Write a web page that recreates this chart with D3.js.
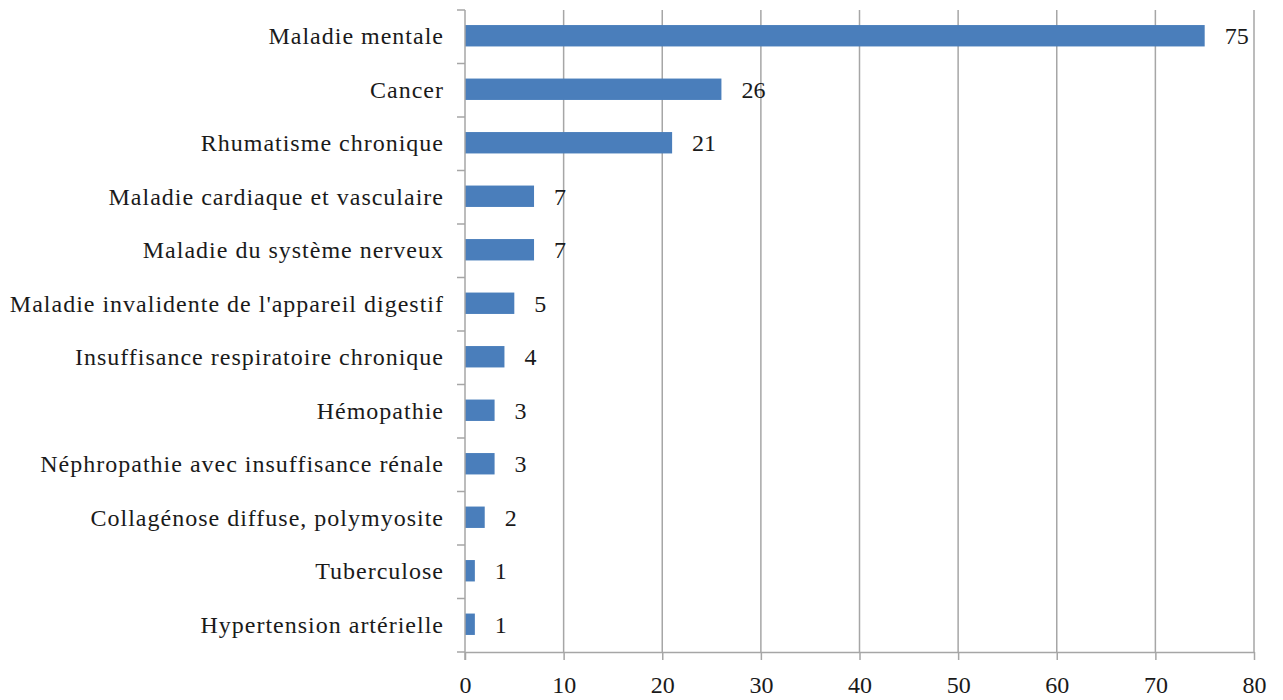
<!DOCTYPE html>
<html><head><meta charset="utf-8">
<script src="https://cdnjs.cloudflare.com/ajax/libs/d3/7.8.5/d3.min.js"></script>
<style>body{margin:0;background:#fff}svg{display:block}text{font-family:"Liberation Serif","Times New Roman",serif}</style>
</head><body>
<svg id="c" width="1283" height="700"></svg>
<script>
const categories = ["Maladie mentale","Cancer","Rhumatisme chronique","Maladie cardiaque et vasculaire","Maladie du système nerveux","Maladie invalidente de l'appareil digestif","Insuffisance respiratoire chronique","Hémopathie","Néphropathie avec insuffisance rénale","Collagénose diffuse, polymyosite","Tuberculose","Hypertension artérielle"];
const values = [75,26,21,7,7,5,4,3,3,2,1,1];
const xTicks = [0,10,20,30,40,50,60,70,80];

(function(){
const svg = d3.select("#c");
const mL = 465, mR = 1254, mT = 10, mB = 652;
const x = d3.scaleLinear().domain([0,80]).range([mL,mR]);
const y = d3.scaleBand().domain(categories).range([mT,mB]).paddingInner(0.6).paddingOuter(0.3);
const font = "Liberation Serif, Times New Roman, serif";
const grid = "#a6a6a6";

// gridlines
svg.append("g").selectAll("line").data(xTicks.slice(1)).join("line")
  .attr("x1",d=>x(d)).attr("x2",d=>x(d)).attr("y1",mT).attr("y2",mB)
  .attr("stroke",grid).attr("stroke-width",1.5);

// bars
svg.append("g").selectAll("rect").data(values).join("rect")
  .attr("x",mL).attr("y",(d,i)=>y(categories[i])-1)
  .attr("width",d=>x(d)-mL).attr("height",y.bandwidth())
  .attr("fill","#4a7ebb");

// value labels
svg.append("g").selectAll("text").data(values).join("text")
  .attr("x",d=>x(d)+20).attr("y",(d,i)=>y(categories[i])+y.bandwidth()/2-1)
  .attr("dy","0.35em").attr("font-family",font).attr("font-size",24).attr("fill","#1a1a1a")
  .text(d=>d);

// x axis
const xAxis = svg.append("g").attr("transform",`translate(0,${mB})`)
  .call(d3.axisBottom(x).tickValues(xTicks).tickSize(8).tickSizeOuter(0).tickPadding(16));
xAxis.attr("font-family",font);
xAxis.select(".domain").attr("stroke",grid).attr("stroke-width",1.5);
xAxis.selectAll(".tick line").attr("stroke",grid).attr("stroke-width",1.5);
xAxis.selectAll("text").attr("font-family",font).attr("font-size",24).attr("fill","#1a1a1a");

// y axis line and boundary ticks
const bounds = d3.range(categories.length+1).map(i=>mT + i*(mB-mT)/categories.length);
svg.append("line").attr("x1",mL).attr("x2",mL).attr("y1",mT).attr("y2",mB+8)
  .attr("stroke",grid).attr("stroke-width",1.5);
svg.append("g").selectAll("line").data(bounds).join("line")
  .attr("x1",mL-8).attr("x2",mL).attr("y1",d=>d).attr("y2",d=>d)
  .attr("stroke",grid).attr("stroke-width",1.5);

// category labels
svg.append("g").selectAll("text").data(categories).join("text")
  .attr("x",444).attr("y",d=>y(d)+y.bandwidth()/2-1).attr("dy","0.35em")
  .attr("text-anchor","end").attr("font-family",font).attr("font-size",24)
  .attr("letter-spacing","1px").attr("fill","#1a1a1a").text(d=>d);
})();
</script>
</body></html>
